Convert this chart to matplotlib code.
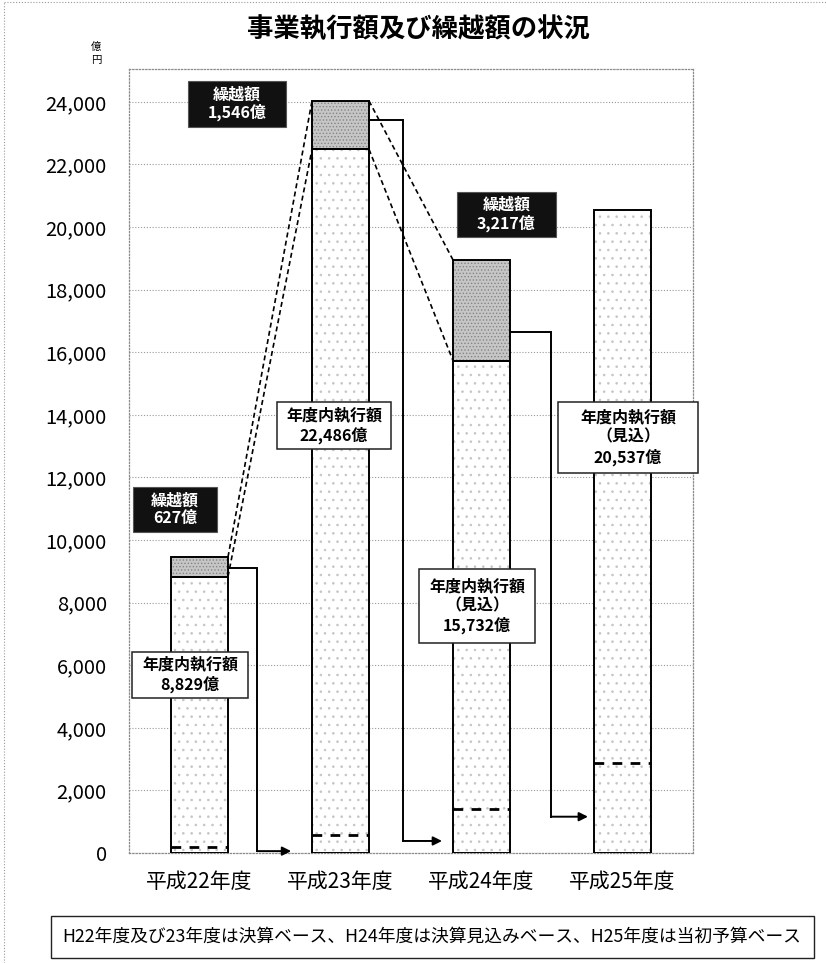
import matplotlib
matplotlib.use("Agg")
import matplotlib.pyplot as plt
from matplotlib.patches import Rectangle
from matplotlib.lines import Line2D

plt.rcParams['font.family'] = ['Noto Sans CJK JP', 'DejaVu Sans']
plt.rcParams['hatch.linewidth'] = 0.6

# ---- data (億円) ----
years = ['平成22年度', '平成23年度', '平成24年度', '平成25年度']
executed = [8829, 22486, 15732, 20537]          # 年度内執行額
carryover = [627, 1546, 3217, 0]                # 繰越額
estimated = [False, False, True, True]          # 見込
bracket_level = [9100, 23420, 16640]            # step line top level
arrow_level = [60, 384, 1160]                   # arrow level into next year
dashed_level = [200, 575, 1396, 2886]           # dashed marker inside bars
yticks = list(range(0, 24001, 2000))

# ---- layout ----
W, H = 826, 963
bar_w = 0.404
bracket_w = [0.206, 0.241, 0.291]
arrow_end = [0.65, 1.72, 2.755]
carry_boxes = [(-0.472, 10259, 0.596, 1438), (-0.082, 23202, 0.695, 1470),
               (1.826, 19687, 0.702, 1438)]
exec_boxes = [(-0.479, 4954, 0.823, 1470), (0.550, 12911, 0.808, 1502),
              (1.557, 6711, 0.822, 2365), (2.543, 12144, 0.992, 2269)]

fig = plt.figure(figsize=(W / 100, H / 100), dpi=100)
ax = fig.add_axes([129 / W, 1 - 853 / H, (693 - 129) / W, (853 - 69) / H])
ax.set_xlim(-0.5, 3.5)
ax.set_ylim(0, 25050)

dot = (0, (1, 1.6))
ax.set_yticks(yticks)
ax.set_yticklabels([f"{v:,}" for v in yticks])
ax.set_xticks(range(len(years)))
ax.set_xticklabels(years)
ax.tick_params(axis='y', length=0, pad=16, labelsize=14.5)
ax.tick_params(axis='x', length=0, pad=13, labelsize=15)
ax.yaxis.grid(True, linestyle=dot, color='#9a9a9a', lw=0.8)
ax.set_axisbelow(True)
for s in ax.spines.values():
    s.set_linestyle(dot)
    s.set_color('#8a8a8a')
    s.set_linewidth(0.9)

x = list(range(len(years)))
totals = [e + c for e, c in zip(executed, carryover)]

# executed amount: sparse stipple
ax.bar(x, executed, width=bar_w, color='white', edgecolor='#c4c4c4',
       hatch='..', lw=0, zorder=2)
ax.bar(x, executed, width=bar_w, fill=False, edgecolor='black', lw=1.4, zorder=4)
# carry-over amount: dense grey stipple
ax.bar(x, carryover, bottom=executed, width=bar_w, color='#c6c6c6',
       edgecolor='#858585', hatch='.....', lw=0, zorder=2)
for i in x:
    if carryover[i] > 0:
        ax.bar(i, carryover[i], bottom=executed[i], width=bar_w, fill=False,
               edgecolor='black', lw=1.4, zorder=4)

# dashed markers inside bars
for i in x:
    ax.plot([i - bar_w / 2, i + bar_w / 2], [dashed_level[i]] * 2, color='black',
            lw=2.0, ls=(0, (3.5, 3)), zorder=5, solid_capstyle='butt')

# dashed connectors between carry-over segments
for i in range(2):
    xr = i + bar_w / 2
    xl = i + 1 - bar_w / 2
    ax.plot([xr, xl], [totals[i], totals[i + 1]], color='black', lw=1.2,
            ls=(0, (3, 2)), zorder=6)
    ax.plot([xr, xl], [executed[i], executed[i + 1]], color='black', lw=1.2,
            ls=(0, (3, 2)), zorder=6)

# step lines with arrows into the following year
for i in range(3):
    x0 = i + bar_w / 2
    x1 = x0 + bracket_w[i]
    ax.plot([x0, x1, x1], [bracket_level[i], bracket_level[i], arrow_level[i]],
            color='black', lw=1.4, zorder=4, solid_joinstyle='miter')
    ax.annotate('', xy=(arrow_end[i], arrow_level[i]), xytext=(x1, arrow_level[i]),
                arrowprops=dict(arrowstyle='-|>', color='black', lw=1.4,
                                mutation_scale=13, shrinkA=0, shrinkB=0),
                zorder=4, annotation_clip=False)

# carry-over labels (black boxes)
carry_idx = [i for i in x if carryover[i] > 0]
for (bx, by, bw, bh), i in zip(carry_boxes, carry_idx):
    ax.add_patch(Rectangle((bx, by), bw, bh, facecolor='#111111',
                           edgecolor='#555555', lw=0.8, zorder=7, clip_on=False))
    ax.text(bx + bw / 2, by + bh / 2, f"繰越額\n{carryover[i]:,}億", color='white',
            ha='center', va='center', fontsize=11.5, fontweight='bold',
            linespacing=1.1, zorder=8)

# executed labels (white boxes)
for (bx, by, bw, bh), i in zip(exec_boxes, x):
    ax.add_patch(Rectangle((bx, by), bw, bh, facecolor='white',
                           edgecolor='#222222', lw=1.1, zorder=7, clip_on=False))
    lines = ['年度内執行額']
    if estimated[i]:
        lines.append('（見込）')
    lines.append(f"{executed[i]:,}億")
    ax.text(bx + bw / 2, by + bh / 2, "\n".join(lines), color='black',
            ha='center', va='center', fontsize=11.5, fontweight='bold',
            linespacing=1.25, zorder=8, clip_on=False)

# unit label
fig.text(96 / W, 1 - 47 / H, '億', fontsize=7.5, ha='center', va='center')
fig.text(96 / W, 1 - 60 / H, '円', fontsize=7.5, ha='center', va='center')

# title
fig.text(418 / W, 1 - 30 / H, '事業執行額及び繰越額の状況', fontsize=19,
         fontweight='bold', ha='center', va='center')

# note box
fig.patches.append(Rectangle((51 / W, 1 - 958 / H), (814 - 51) / W, (958 - 916) / H,
                             transform=fig.transFigure, facecolor='white',
                             edgecolor='#222222', lw=1.0))
fig.text(432 / W, 1 - 937 / H,
         'H22年度及び23年度は決算ベース、H24年度は決算見込みベース、H25年度は当初予算ベース',
         fontsize=12.8, ha='center', va='center')

# outer frame
fig.lines.append(Line2D([4 / W, 4 / W], [0, 1 - 2 / H], transform=fig.transFigure,
                        color='#9a9a9a', lw=0.8, ls=dot))
fig.lines.append(Line2D([4 / W, 1], [1 - 2 / H, 1 - 2 / H], transform=fig.transFigure,
                        color='#9a9a9a', lw=0.8, ls=dot))

fig.savefig('out.png', dpi=100)
